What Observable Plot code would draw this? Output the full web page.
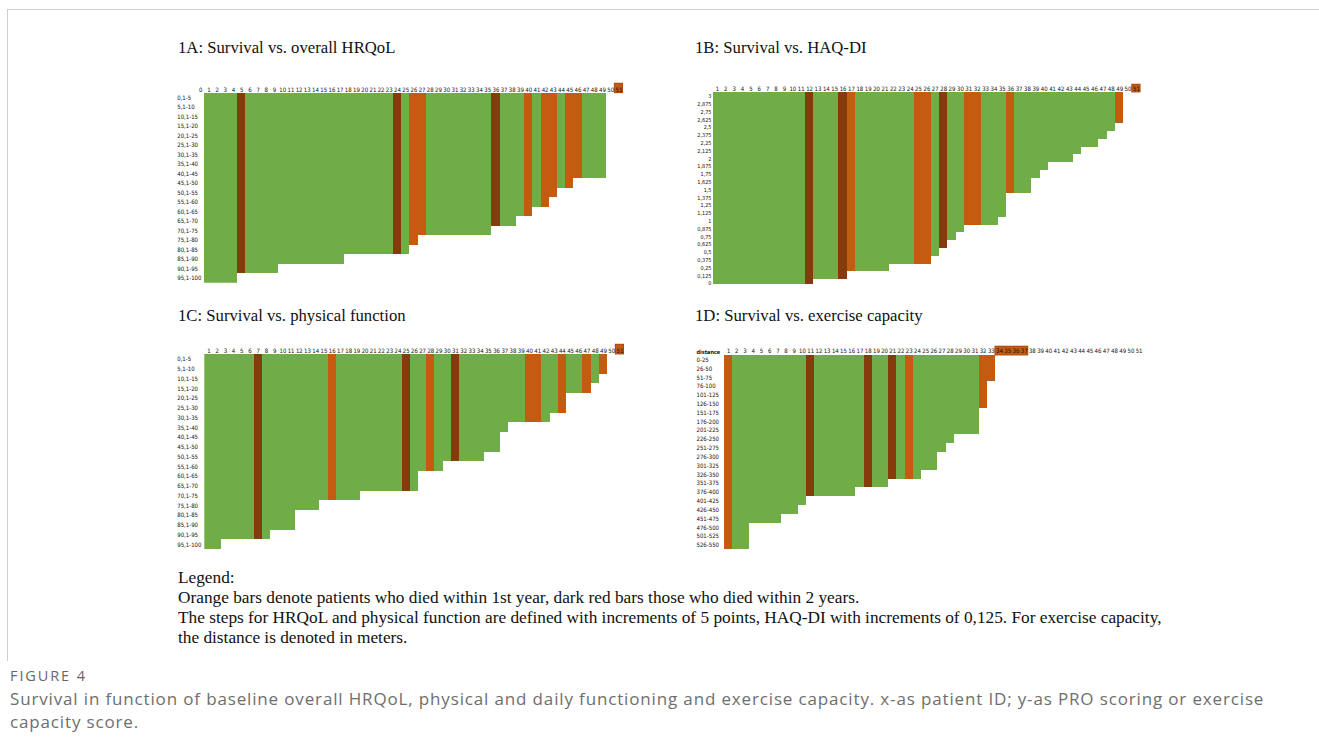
<!DOCTYPE html>
<html>
<head>
<meta charset="utf-8">
<script src="https://cdn.jsdelivr.net/npm/d3@7"></script>
<script src="https://cdn.jsdelivr.net/npm/@observablehq/plot@0.6"></script>
<style>
  html, body { margin: 0; padding: 0; background: #fff; }
  body { width: 1319px; height: 756px; position: relative; overflow: hidden; }
  .abs { position: absolute; }
  .frame { left: 7px; top: 9px; width: 1400px; height: 651px; border-top: 1px solid #cfcfcf; border-left: 1px solid #cfcfcf; }
  .title { font-family: "Liberation Serif", "Times New Roman", serif; font-size: 16.7px; line-height: 16px; color: #111; white-space: nowrap; }
  .legend { left: 178px; top: 568px; font-family: "Liberation Serif", "Times New Roman", serif; font-size: 17.3px; line-height: 20px; color: #111; white-space: nowrap; }
  .figlabel { left: 10px; top: 669px; font-family: "Open Sans", sans-serif; font-size: 14.5px; line-height: 14px; letter-spacing: 1.9px; color: #666; white-space: nowrap; }
  .caption { left: 10px; height: 23px; font-family: "Open Sans", sans-serif; font-size: 17px; line-height: 23px; letter-spacing: 0.85px; color: #6e6e6e; white-space: nowrap; }
  .panel svg { display: block; overflow: visible; }
</style>
</head>
<body>
<div class="abs frame"></div>
<div class="abs title" style="left:178px;top:40px">1A: Survival vs. overall HRQoL</div>
<div class="abs title" style="left:695px;top:40px">1B: Survival vs. HAQ-DI</div>
<div class="abs title" style="left:178px;top:307.5px">1C: Survival vs. physical function</div>
<div class="abs title" style="left:695px;top:307.5px">1D: Survival vs. exercise capacity</div>
<div id="pA" class="abs panel"></div>
<div id="pB" class="abs panel"></div>
<div id="pC" class="abs panel"></div>
<div id="pD" class="abs panel"></div>
<div class="abs legend">Legend:<br>Orange bars denote patients who died within 1st year, dark red bars those who died within 2 years.<br>The steps for HRQoL and physical function are defined with increments of 5 points, HAQ-DI with increments of 0,125. For exercise capacity,<br>the distance is denoted in meters.</div>
<div class="abs figlabel">FIGURE 4</div>
<div class="abs caption" style="top:687px">Survival in function of baseline overall HRQoL, physical and daily functioning and exercise capacity. x-as patient ID; y-as PRO scoring or exercise</div>
<div class="abs caption" style="top:710px">capacity score.</div>
<script>
// ---------- categories (row labels, top to bottom) ----------
const hrqolBins = ["0,1-5","5,1-10","10,1-15","15,1-20","20,1-25","25,1-30","30,1-35","35,1-40","40,1-45","45,1-50",
  "50,1-55","55,1-60","60,1-65","65,1-70","70,1-75","75,1-80","80,1-85","85,1-90","90,1-95","95,1-100"];
const haqBins = ["3","2,875","2,75","2,625","2,5","2,375","2,25","2,125","2","1,875","1,75","1,625","1,5",
  "1,375","1,25","1,125","1","0,875","0,75","0,625","0,5","0,375","0,25","0,125","0"];
const distanceBins = ["0-25","26-50","51-75","76-100","101-125","126-150","151-175","176-200","201-225","226-250",
  "251-275","276-300","301-325","326-350","351-375","376-400","401-425","426-450","451-475","476-500","501-525","526-550"];

// patient id header labels
const idsA = d3.range(0, 52);
const idsBCD = d3.range(1, 52);

// ---------- values per patient (id 1..51); null = no score ----------
// 1A overall HRQoL (upper bound of 5-point bin)
const hrqolA = [100,100,100,100,95,95,95,95,95,90,90,90,90,90,90,90,90,85,85,85,85,85,85,85,85,80,
  75,75,75,75,75,75,75,75,75,70,70,70,65,65,60,60,55,50,50,45,45,45,45,null,null];
const died1yA = [26,27,40,42,43,45,46,51];
const died2yA = [5,24,36];

// 1B HAQ-DI
const haqB = [0,0,0,0,0,0,0,0,0,0,0,0,0.125,0.125,0.125,0.125,0.25,0.25,0.25,0.25,0.25,
  0.375,0.375,0.375,0.375,0.375,0.5,0.625,0.75,0.875,1,1,1,1,1.125,1.5,1.5,1.5,1.75,1.875,
  2,2,2,2.125,2.25,2.25,2.375,2.5,2.625,null,null];
const died1yB = [17,25,26,31,32,36,49,51];
const died2yB = [12,16,28];

// 1C physical function (upper bound of 5-point bin)
const physC = [100,100,95,95,95,95,95,95,90,90,90,80,80,80,75,75,75,75,75,70,70,70,70,70,70,70,
  60,60,60,55,55,55,55,55,50,50,40,35,35,35,35,35,30,30,20,20,20,15,10,null,null];
const died1yC = [16,28,40,41,44,47,49,51];
const died2yC = [7,25,31];

// 1D exercise capacity (upper bound of 25 m bin)
const distD = [550,550,550,475,475,475,475,450,450,425,400,400,400,400,400,400,375,375,375,375,
  350,350,350,350,325,325,275,250,225,225,225,150,75,
  null,null,null,null,null,null,null,null,null,null,null,null,null,null,null,null,null,null];
const died1yD = [1,23,32,33,34,35,36,37];
const died2yD = [11,18,21];

const COLORS = {alive: "#70ad47", y1: "#c55a11", y2: "#843c0c"};
const FONT = "'Liberation Sans Narrow','DejaVu Sans Condensed','Liberation Sans',sans-serif";

function makePanel(cfg) {
  const recs = cfg.values.map((v, i) => ({
    id: i + 1,
    value: v,
    status: cfg.died1.includes(i + 1) ? "y1" : cfg.died2.includes(i + 1) ? "y2" : "alive"
  }));
  const bars = recs.filter(d => d.value != null).map(d => ({...d, row: cfg.toRow(d.value)}));
  const header = recs.filter(d => d.value == null && d.status !== "alive");
  const hExt = d3.extent(header, d => d.id);
  const n = cfg.bins.length;
  const yTicks = d3.range(n).map(i => i + 0.5);
  const marks = [
    Plot.rect(bars, {x1: d => d.id - 0.5, x2: d => d.id + 0.5, y1: 0, y2: d => d.row + 1,
      fill: d => COLORS[d.status], clip: true, shapeRendering: "crispEdges"}),
    Plot.rect(header, {x1: d => d.id - 0.5, x2: d => d.id + 0.5, y1: -1, y2: 0,
      fill: d => COLORS[d.status], shapeRendering: "crispEdges"}),
    Plot.rect([hExt], {x1: d => d[0] - 0.5, x2: d => d[1] + 0.5, y1: -1, y2: 0,
      fill: "none", stroke: "#a84a0c", strokeWidth: 0.9}),
    Plot.axisX({anchor: "top", ticks: cfg.ids, tickFormat: d => String(d), tickSize: 0,
      tickPadding: cfg.xPad, fontSize: 6, label: null, fill: "#111"}),
    Plot.axisY({anchor: "left", ticks: yTicks, tickFormat: t => cfg.bins[Math.floor(t)], tickSize: 0,
      tickPadding: cfg.yPad, textAnchor: cfg.yAnchor, dx: cfg.ydx, fontSize: cfg.yFont, label: null, fill: "#111"})
  ];
  if (cfg.cornerLabel) {
    marks.push(Plot.text([cfg.cornerLabel], {frameAnchor: "top-left", text: d => d, textAnchor: "start",
      dx: cfg.ydx, dy: -5.5, fontSize: 5.5, fontWeight: "bold", fill: "#111"}));
  }
  const svg = Plot.plot({
    width: cfg.width, height: cfg.height,
    marginLeft: cfg.ml, marginRight: cfg.mr, marginTop: cfg.mt, marginBottom: cfg.mb,
    style: {fontFamily: FONT, fontSize: "6px", background: "transparent", overflow: "visible"},
    x: {type: "linear", domain: [cfg.ids[0] - 0.5, 51.5]},
    y: {type: "linear", domain: [0, cfg.yMax], reverse: true},
    color: {type: "identity"},
    marks
  });
  const host = document.getElementById(cfg.host);
  host.style.left = cfg.left + "px";
  host.style.top = cfg.top + "px";
  host.appendChild(svg);
}

// 1A
makePanel({host: "pA", left: 170, top: 78, width: 460, height: 212, ml: 26.1, mr: 7.5, mt: 14.7, mb: 7.3,
  values: hrqolA, died1: died1yA, died2: died2yA, bins: hrqolBins, toRow: v => hrqolBins.length - (100 - v) / 5 - 1,
  ids: idsA, yMax: 20, xPad: 1, yPad: 0, yAnchor: "start", ydx: -19.4, yFont: 6});
// 1B
makePanel({host: "pB", left: 690, top: 78, width: 460, height: 212, ml: 22.7, mr: 9.9, mt: 14, mb: 6.1,
  values: haqB, died1: died1yB, died2: died2yB, bins: haqBins, toRow: v => (3 - v) / 0.125,
  ids: idsBCD, yMax: 24.6, xPad: 1.2, yPad: 1.7, yAnchor: "end", ydx: 0, yFont: 5.5});
// 1C
makePanel({host: "pC", left: 170, top: 338, width: 460, height: 216, ml: 34.3, mr: 6.5, mt: 16, mb: 5,
  values: physC, died1: died1yC, died2: died2yC, bins: hrqolBins, toRow: v => hrqolBins.length - (100 - v) / 5 - 1,
  ids: idsBCD, yMax: 20, xPad: 1.7, yPad: 0, yAnchor: "start", ydx: -27.6, yFont: 6});
// 1D
makePanel({host: "pD", left: 690, top: 338, width: 460, height: 216, ml: 34, mr: 7.3, mt: 17, mb: 4.7,
  values: distD, died1: died1yD, died2: died2yD, bins: distanceBins, toRow: v => distanceBins.length - (550 - v) / 25 - 1,
  ids: idsBCD, yMax: 22, xPad: 2.5, yPad: 0, yAnchor: "start", ydx: -28, yFont: 6, cornerLabel: "distance"});
</script>
</body>
</html>
